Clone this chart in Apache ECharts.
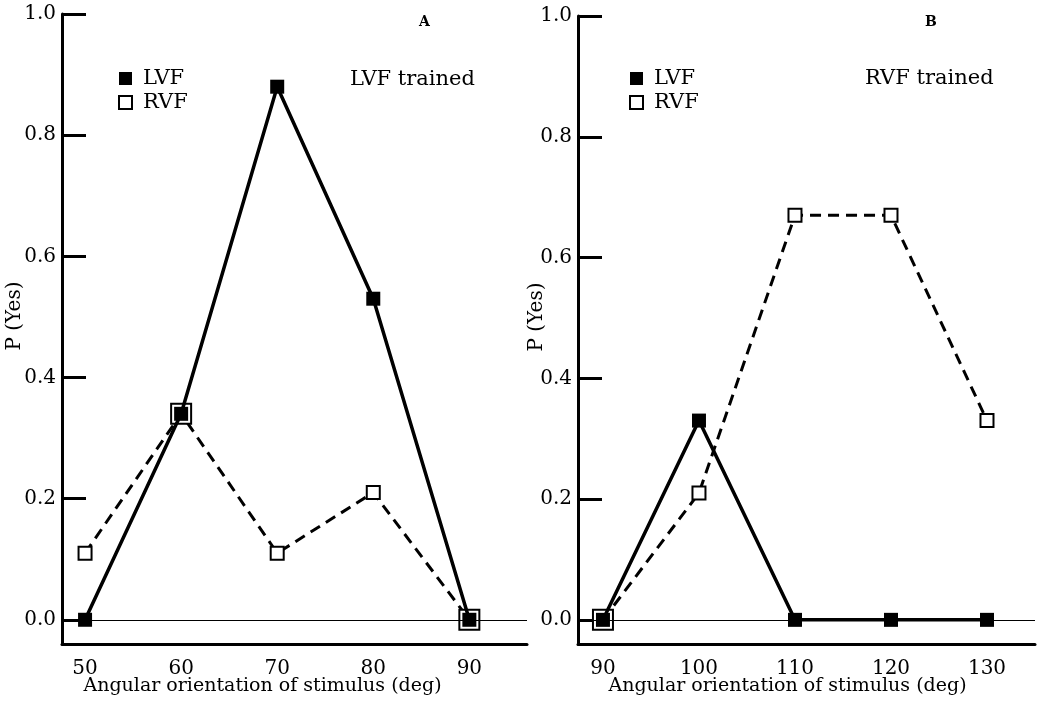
<!DOCTYPE html>
<html>
<head>
<meta charset="utf-8">
<script src="https://cdn.jsdelivr.net/npm/echarts@6/dist/echarts.min.js"></script>
<style>
  html, body { margin: 0; padding: 0; background: #fff; }
  #main { width: 1037px; height: 703px; }
</style>
</head>
<body>
<div id="main"></div>
<script>
// panel A (LVF trained)
var anglesA = [50, 60, 70, 80, 90];
var lvfA = [0, 0.34, 0.88, 0.53, 0];
var rvfA = [0.11, 0.34, 0.11, 0.21, 0];
// panel B (RVF trained)
var anglesB = [90, 100, 110, 120, 130];
var lvfB = [0, 0.33, 0, 0, 0];
var rvfB = [0, 0.21, 0.67, 0.67, 0.33];
var yTicks = [0, 0.2, 0.4, 0.6, 0.8, 1.0];

var serif = 'DejaVu Serif';
var chart = echarts.init(document.getElementById('main'));

function pairs(xs, ys) {
  return xs.map(function (x, i) { return [x, ys[i]]; });
}

function xAxisFor(idx, min, max, ticks, padRight) {
  return {
    type: 'value', gridIndex: idx, min: min, max: max,
    axisLine: { onZero: false, lineStyle: { color: '#000', width: 3 } },
    axisTick: { show: false },
    splitLine: { show: false },
    axisLabel: { customValues: ticks, color: '#000', fontFamily: serif, fontSize: 20, margin: 15 },
    name: 'Angular orientation of stimulus (deg)',
    nameLocation: 'middle', nameGap: 33, nameMoveOverlap: false,
    nameTextStyle: { color: '#000', fontFamily: serif, fontSize: 19, padding: [0, padRight, 0, 0] }
  };
}

function yAxisFor(idx, gap, padLeft) {
  return {
    type: 'value', gridIndex: idx, min: -0.04, max: 1.0,
    axisLine: { onZero: false, lineStyle: { color: '#000', width: 3 } },
    axisTick: { show: true, inside: true, length: 24, customValues: yTicks, lineStyle: { color: '#000', width: 3 } },
    splitLine: { show: false },
    axisLabel: {
      customValues: yTicks, color: '#000', fontFamily: serif, fontSize: 20, margin: 6,
      formatter: function (v) { return v.toFixed(1); }
    },
    name: 'P (Yes)', nameLocation: 'middle', nameGap: gap, nameMoveOverlap: false,
    nameTextStyle: { color: '#000', fontFamily: serif, fontSize: 20, padding: [0, 0, 0, padLeft] }
  };
}

function rvfSeries(idx, xs, rvf, lvf) {
  return {
    name: 'RVF', type: 'line', xAxisIndex: idx, yAxisIndex: idx, z: 2,
    data: pairs(xs, rvf),
    symbol: 'rect',
    symbolSize: function (v, p) { return rvf[p.dataIndex] === lvf[p.dataIndex] ? 20 : 13; },
    itemStyle: { color: '#fff', borderColor: '#000', borderWidth: 2 },
    lineStyle: { color: '#000', width: 3, type: [11, 7] }
  };
}

function lvfSeries(idx, xs, lvf) {
  return {
    name: 'LVF', type: 'line', xAxisIndex: idx, yAxisIndex: idx, z: 3,
    data: pairs(xs, lvf),
    symbol: 'rect', symbolSize: 14,
    itemStyle: { color: '#000' },
    lineStyle: { color: '#000', width: 3.5 },
    markLine: {
      silent: true, symbol: 'none', label: { show: false },
      lineStyle: { color: '#000', width: 1, type: 'solid' },
      data: [{ yAxis: 0 }]
    }
  };
}

function legendFor(left) {
  return {
    left: left, top: 68, orient: 'vertical', padding: 0,
    itemWidth: 13, itemHeight: 13, itemGap: 3,
    icon: 'rect', selectedMode: false,
    textStyle: { color: '#000', fontFamily: serif, fontSize: 21, padding: [0, 0, 0, 6] },
    data: ['LVF', 'RVF']
  };
}

function label(x, y, text, size, bold) {
  return {
    type: 'text', left: x, top: y,
    style: { text: text, fill: '#000', font: (bold ? 'bold ' : '') + size + 'px "' + serif + '"' }
  };
}

chart.setOption({
  animation: false,
  backgroundColor: '#fff',
  grid: [
    { left: 62, top: 14, width: 465, height: 630, outerBoundsMode: 'none' },
    { left: 578, top: 16, width: 457, height: 628, outerBoundsMode: 'none' }
  ],
  xAxis: [
    xAxisFor(0, 47.6, 96, anglesA, 64),
    xAxisFor(1, 87.4, 135, anglesB, 38)
  ],
  yAxis: [yAxisFor(0, 37, 26), yAxisFor(1, 31, 26)],
  legend: [legendFor(118), legendFor(629)],
  series: [
    rvfSeries(0, anglesA, rvfA, lvfA),
    lvfSeries(0, anglesA, lvfA),
    rvfSeries(1, anglesB, rvfB, lvfB),
    lvfSeries(1, anglesB, lvfB)
  ],
  graphic: [
    label(419, 15, 'A', 14, true),
    label(925, 15, 'B', 14, true),
    label(350, 69, 'LVF trained', 21, false),
    label(865, 68, 'RVF trained', 21, false)
  ]
});
</script>
</body>
</html>
